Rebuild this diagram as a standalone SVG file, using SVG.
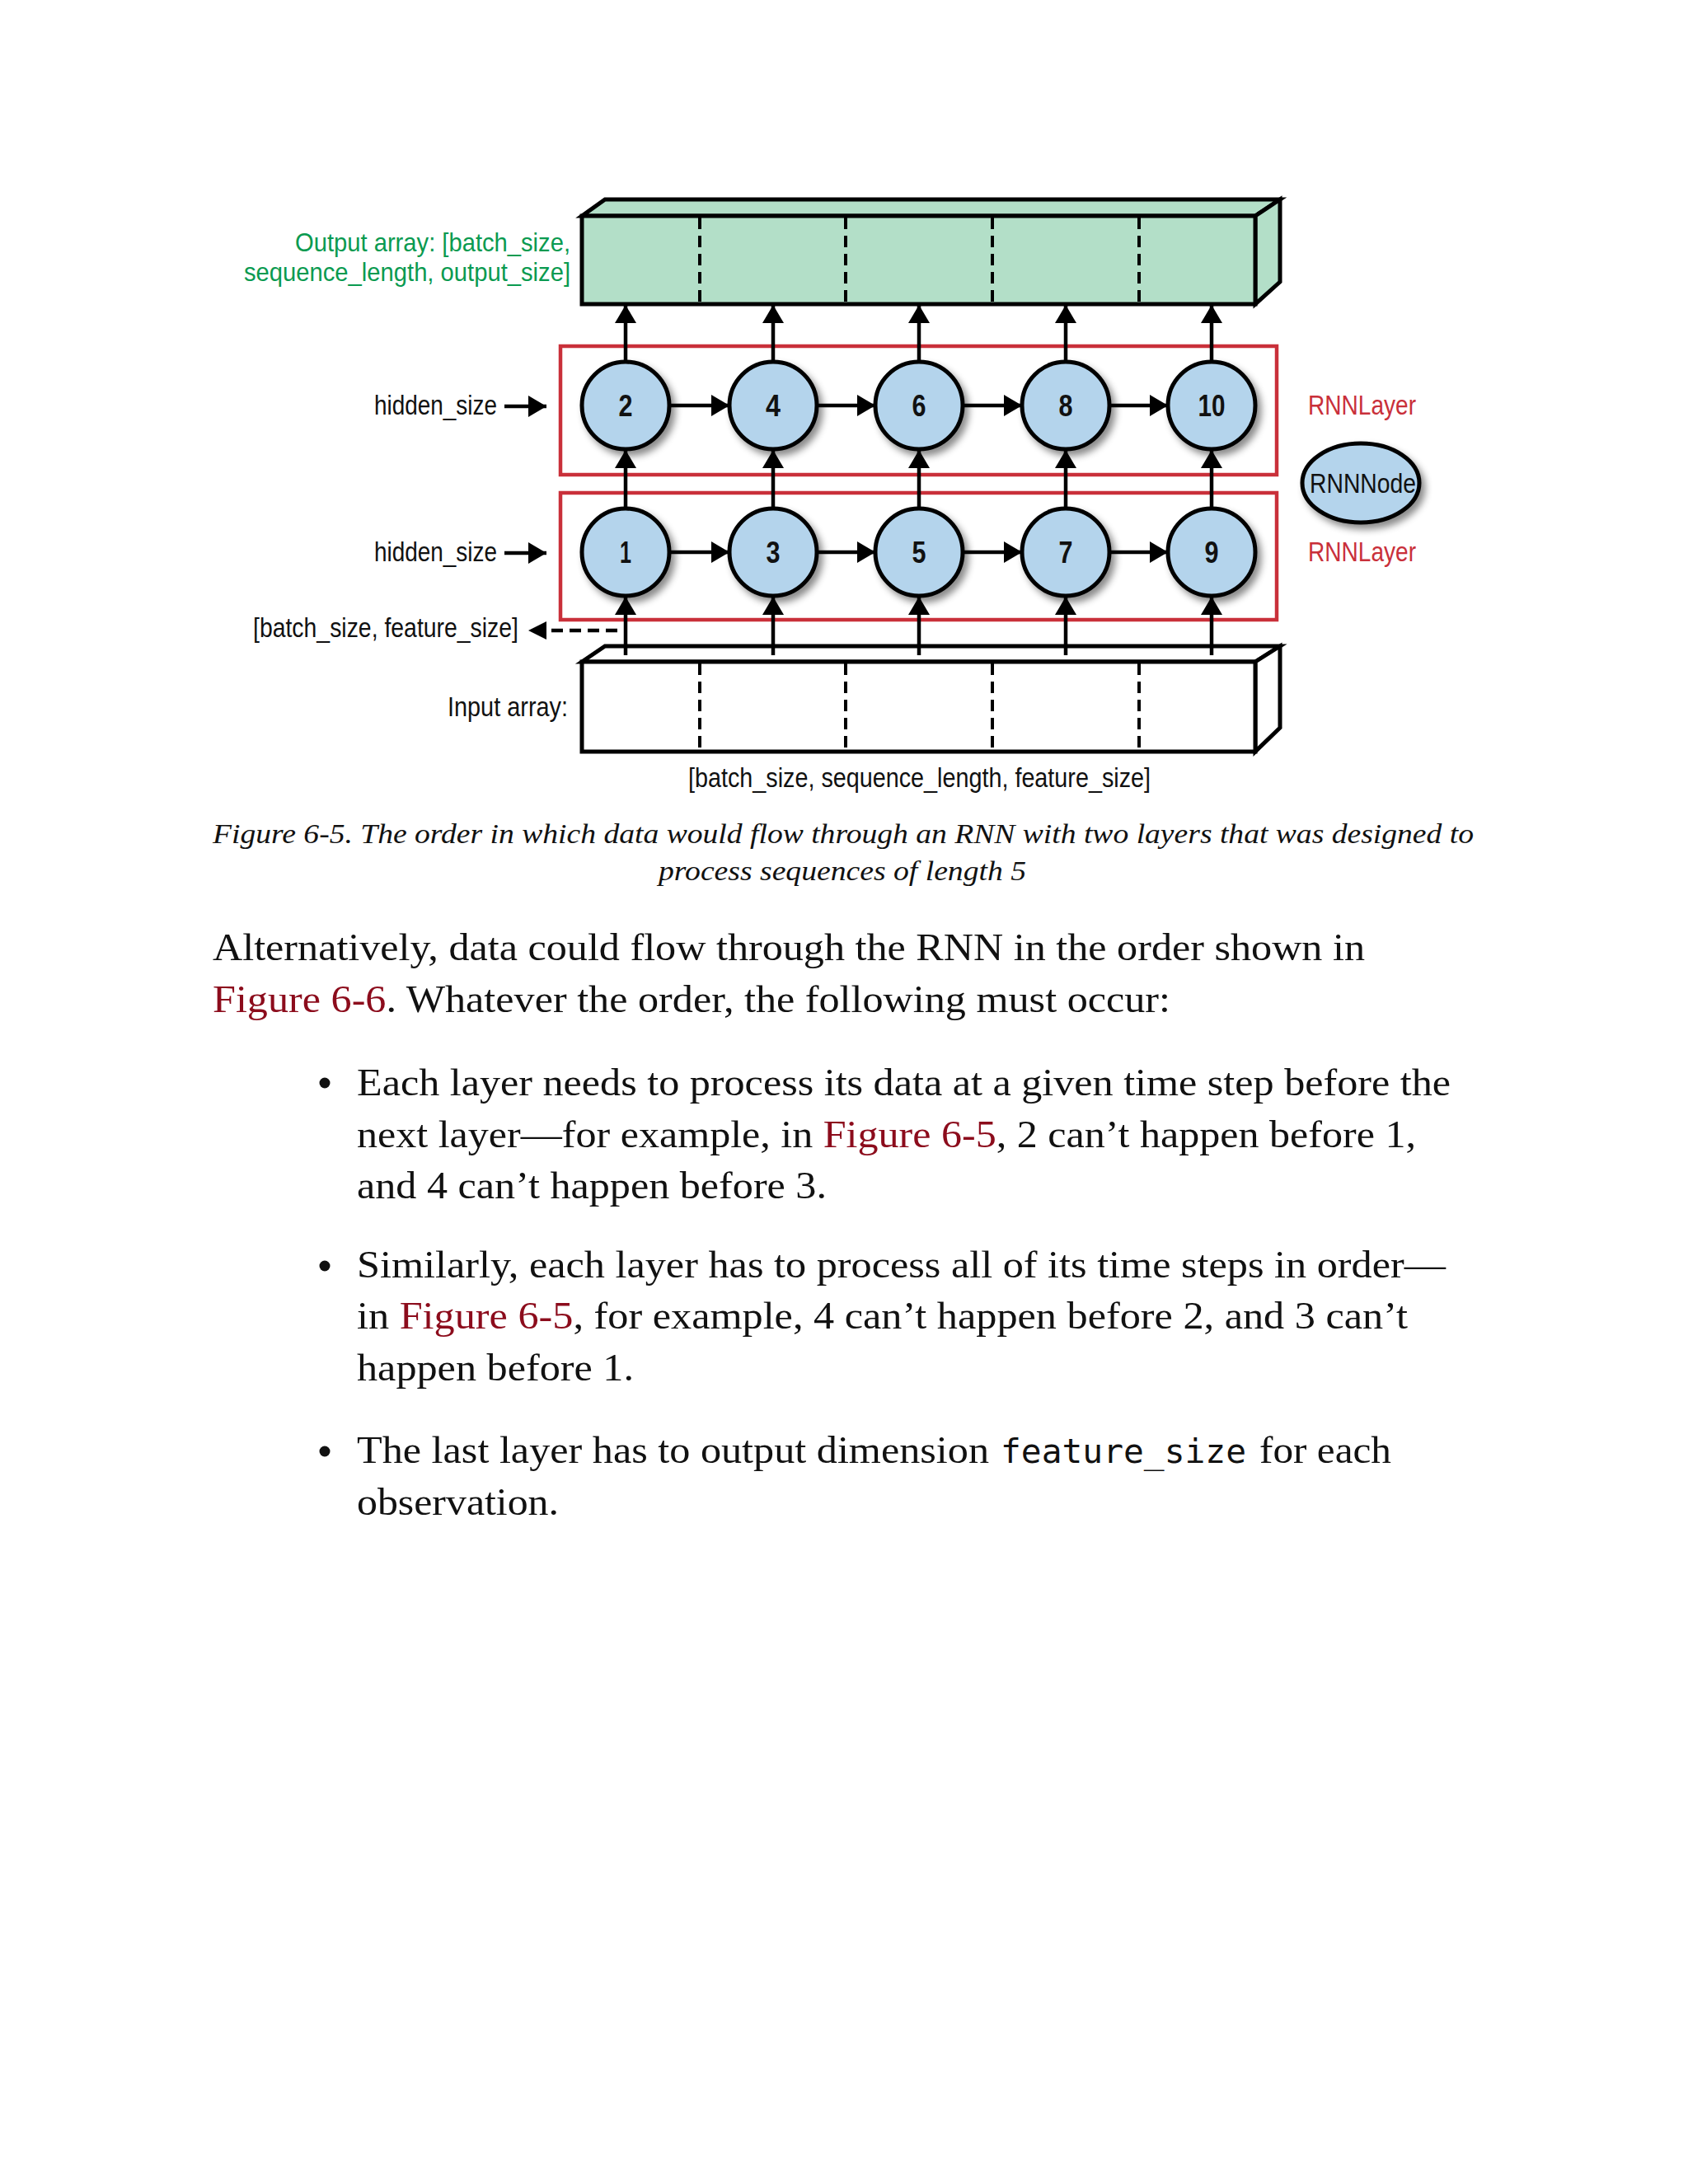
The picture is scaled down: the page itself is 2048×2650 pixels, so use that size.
<svg xmlns="http://www.w3.org/2000/svg" width="2048" height="2650" viewBox="0 0 2048 2650">
<style>
.lbl{font-family:"Liberation Sans",Arial,sans-serif;font-size:34px;fill:#111}
.grn{fill:#0a9a50;font-size:32px}
.red{fill:#c9303a}
.num{font-family:"Liberation Sans",Arial,sans-serif;font-size:36px;font-weight:bold;fill:#111;text-anchor:middle}
.node{fill:#b4d4ec;stroke:#000;stroke-width:5}
.box{stroke:#000;stroke-width:5;stroke-linejoin:miter}
.div{stroke:#000;stroke-width:4;stroke-dasharray:14 8}
.layer{fill:none;stroke:#c9303a;stroke-width:4.5}
.arr{stroke:#000;stroke-width:4.5;fill:none;marker-end:url(#ah)}
.cap{font-family:"Liberation Serif","Times New Roman",serif;font-style:italic;font-size:33px;fill:#111}
.body{font-family:"Liberation Serif","Times New Roman",serif;font-size:47px;fill:#111}
.mono{font-family:"DejaVu Sans Mono","Liberation Mono",monospace;font-size:41px;fill:#111}
.lnk{fill:#8c0c1c}
</style>
<defs>
<marker id="ah" markerUnits="userSpaceOnUse" markerWidth="24" markerHeight="26" refX="22" refY="13" orient="auto">
<path d="M0,0 L22,13 L0,26 z" fill="#000"/>
</marker>
<marker id="ahs" markerUnits="userSpaceOnUse" markerWidth="24" markerHeight="22" refX="22" refY="11" orient="auto">
<path d="M0,0 L22,11 L0,22 z" fill="#000"/>
</marker>
<filter id="sh" x="-30%" y="-30%" width="170%" height="170%">
<feDropShadow dx="5" dy="6" stdDeviation="4" flood-color="#000" flood-opacity="0.45"/>
</filter>
</defs>
<rect width="2048" height="2650" fill="#fff"/>

<g id="output-array">
<polygon class="box" fill="#b3dfc8" points="706,262 734,242 1553,242 1523,262"/>
<polygon class="box" fill="#b3dfc8" points="1523,262 1553,242 1553,342 1523,369"/>
<rect class="box" fill="#b3dfc8" x="706" y="262" width="817" height="107"/>
<line class="div" x1="849" y1="264" x2="849" y2="367"/>
<line class="div" x1="1026" y1="264" x2="1026" y2="367"/>
<line class="div" x1="1204" y1="264" x2="1204" y2="367"/>
<line class="div" x1="1382" y1="264" x2="1382" y2="367"/>
<text class="lbl grn" x="358" y="305" textLength="334" lengthAdjust="spacingAndGlyphs">Output array: [batch_size,</text>
<text class="lbl grn" x="296" y="341" textLength="396" lengthAdjust="spacingAndGlyphs">sequence_length, output_size]</text>
</g>

<g id="input-array">
<polygon class="box" fill="#fff" points="706,803 734,784 1553,784 1523,803"/>
<polygon class="box" fill="#fff" points="1523,803 1553,784 1553,883 1523,912"/>
<rect class="box" fill="#fff" x="706" y="803" width="817" height="109"/>
<line class="div" x1="849" y1="805" x2="849" y2="910"/>
<line class="div" x1="1026" y1="805" x2="1026" y2="910"/>
<line class="div" x1="1204" y1="805" x2="1204" y2="910"/>
<line class="div" x1="1382" y1="805" x2="1382" y2="910"/>
<text class="lbl" x="543" y="869" textLength="146" lengthAdjust="spacingAndGlyphs">Input array:</text>
<text class="lbl" x="835" y="955" textLength="561" lengthAdjust="spacingAndGlyphs">[batch_size, sequence_length, feature_size]</text>
</g>

<g id="layer-2">
<rect class="layer" x="680" y="420" width="869" height="156"/>
<text class="lbl red" x="1587" y="503" textLength="131" lengthAdjust="spacingAndGlyphs">RNNLayer</text>
</g>
<g id="layer-1">
<rect class="layer" x="680" y="598" width="869" height="154"/>
<text class="lbl red" x="1587" y="681" textLength="131" lengthAdjust="spacingAndGlyphs">RNNLayer</text>
</g>

<g id="connectors">
<line class="arr" x1="759" y1="439" x2="759" y2="370"/>
<line class="arr" x1="938" y1="439" x2="938" y2="370"/>
<line class="arr" x1="1115" y1="439" x2="1115" y2="370"/>
<line class="arr" x1="1293" y1="439" x2="1293" y2="370"/>
<line class="arr" x1="1470" y1="439" x2="1470" y2="370"/>
<line class="arr" x1="759" y1="617" x2="759" y2="546"/>
<line class="arr" x1="938" y1="617" x2="938" y2="546"/>
<line class="arr" x1="1115" y1="617" x2="1115" y2="546"/>
<line class="arr" x1="1293" y1="617" x2="1293" y2="546"/>
<line class="arr" x1="1470" y1="617" x2="1470" y2="546"/>
<line class="arr" x1="759" y1="795" x2="759" y2="724"/>
<line class="arr" x1="938" y1="795" x2="938" y2="724"/>
<line class="arr" x1="1115" y1="795" x2="1115" y2="724"/>
<line class="arr" x1="1293" y1="795" x2="1293" y2="724"/>
<line class="arr" x1="1470" y1="795" x2="1470" y2="724"/>
<line class="arr" x1="812" y1="492" x2="885" y2="492"/>
<line class="arr" x1="991" y1="492" x2="1062" y2="492"/>
<line class="arr" x1="1168" y1="492" x2="1240" y2="492"/>
<line class="arr" x1="1346" y1="492" x2="1417" y2="492"/>
<line class="arr" x1="812" y1="670" x2="885" y2="670"/>
<line class="arr" x1="991" y1="670" x2="1062" y2="670"/>
<line class="arr" x1="1168" y1="670" x2="1240" y2="670"/>
<line class="arr" x1="1346" y1="670" x2="1417" y2="670"/>
<line class="arr" x1="612" y1="493" x2="663" y2="493"/>
<line class="arr" x1="612" y1="671" x2="663" y2="671"/>
<line x1="749" y1="765" x2="641" y2="765" stroke="#000" stroke-width="4.5" stroke-dasharray="14 8" marker-end="url(#ahs)"/>
</g>

<g id="side-labels">
<text class="lbl" x="454" y="503" textLength="149" lengthAdjust="spacingAndGlyphs">hidden_size</text>
<text class="lbl" x="454" y="681" textLength="149" lengthAdjust="spacingAndGlyphs">hidden_size</text>
<text class="lbl" x="307" y="773" textLength="322" lengthAdjust="spacingAndGlyphs">[batch_size, feature_size]</text>
</g>

<g id="node-2"><circle class="node" filter="url(#sh)" cx="759" cy="492" r="53"/><text class="num" x="759" y="505" textLength="17" lengthAdjust="spacingAndGlyphs">2</text></g>
<g id="node-4"><circle class="node" filter="url(#sh)" cx="938" cy="492" r="53"/><text class="num" x="938" y="505" textLength="18" lengthAdjust="spacingAndGlyphs">4</text></g>
<g id="node-6"><circle class="node" filter="url(#sh)" cx="1115" cy="492" r="53"/><text class="num" x="1115" y="505" textLength="17" lengthAdjust="spacingAndGlyphs">6</text></g>
<g id="node-8"><circle class="node" filter="url(#sh)" cx="1293" cy="492" r="53"/><text class="num" x="1293" y="505" textLength="17" lengthAdjust="spacingAndGlyphs">8</text></g>
<g id="node-10"><circle class="node" filter="url(#sh)" cx="1470" cy="492" r="53"/><text class="num" x="1470" y="505" textLength="33" lengthAdjust="spacingAndGlyphs">10</text></g>
<g id="node-1"><circle class="node" filter="url(#sh)" cx="759" cy="670" r="53"/><text class="num" x="759" y="683" textLength="14" lengthAdjust="spacingAndGlyphs">1</text></g>
<g id="node-3"><circle class="node" filter="url(#sh)" cx="938" cy="670" r="53"/><text class="num" x="938" y="683" textLength="17" lengthAdjust="spacingAndGlyphs">3</text></g>
<g id="node-5"><circle class="node" filter="url(#sh)" cx="1115" cy="670" r="53"/><text class="num" x="1115" y="683" textLength="17" lengthAdjust="spacingAndGlyphs">5</text></g>
<g id="node-7"><circle class="node" filter="url(#sh)" cx="1293" cy="670" r="53"/><text class="num" x="1293" y="683" textLength="17" lengthAdjust="spacingAndGlyphs">7</text></g>
<g id="node-9"><circle class="node" filter="url(#sh)" cx="1470" cy="670" r="53"/><text class="num" x="1470" y="683" textLength="17" lengthAdjust="spacingAndGlyphs">9</text></g>

<g id="legend-node">
<ellipse class="node" filter="url(#sh)" cx="1651" cy="586" rx="71" ry="48"/>
<text class="lbl" x="1589" y="598" textLength="129" lengthAdjust="spacingAndGlyphs">RNNNode</text>
</g>

<g id="caption">
<text class="cap" x="258" y="1023" textLength="1530" lengthAdjust="spacingAndGlyphs">Figure 6-5. The order in which data would flow through an RNN with two layers that was designed to</text>
<text class="cap" x="799" y="1068" textLength="446" lengthAdjust="spacingAndGlyphs">process sequences of length 5</text>
</g>

<g id="body-text">
<text class="body" x="258" y="1165" textLength="1398" lengthAdjust="spacingAndGlyphs">Alternatively, data could flow through the RNN in the order shown in</text>
<text class="body" x="258" y="1228" textLength="1162" lengthAdjust="spacingAndGlyphs"><tspan class="lnk">Figure 6-6</tspan>. Whatever the order, the following must occur:</text>

<circle cx="394" cy="1314" r="6.5" fill="#111"/>
<text class="body" x="433" y="1329" textLength="1327" lengthAdjust="spacingAndGlyphs">Each layer needs to process its data at a given time step before the</text>
<text class="body" x="433" y="1392" textLength="1285" lengthAdjust="spacingAndGlyphs">next layer—for example, in <tspan class="lnk">Figure 6-5</tspan>, 2 can’t happen before 1,</text>
<text class="body" x="433" y="1454" textLength="570" lengthAdjust="spacingAndGlyphs">and 4 can’t happen before 3.</text>

<circle cx="394" cy="1536" r="6.5" fill="#111"/>
<text class="body" x="433" y="1550" textLength="1321" lengthAdjust="spacingAndGlyphs">Similarly, each layer has to process all of its time steps in order—</text>
<text class="body" x="433" y="1612" textLength="1275" lengthAdjust="spacingAndGlyphs">in <tspan class="lnk">Figure 6-5</tspan>, for example, 4 can’t happen before 2, and 3 can’t</text>
<text class="body" x="433" y="1675" textLength="336" lengthAdjust="spacingAndGlyphs">happen before 1.</text>

<circle cx="394" cy="1761" r="6.5" fill="#111"/>
<text class="body" x="433" y="1775" textLength="767" lengthAdjust="spacingAndGlyphs">The last layer has to output dimension</text>
<text class="mono" x="1214" y="1775" textLength="298" lengthAdjust="spacingAndGlyphs">feature_size</text>
<text class="body" x="1528" y="1775" textLength="160" lengthAdjust="spacingAndGlyphs">for each</text>
<text class="body" x="433" y="1838" textLength="245" lengthAdjust="spacingAndGlyphs">observation.</text>
</g>
</svg>
